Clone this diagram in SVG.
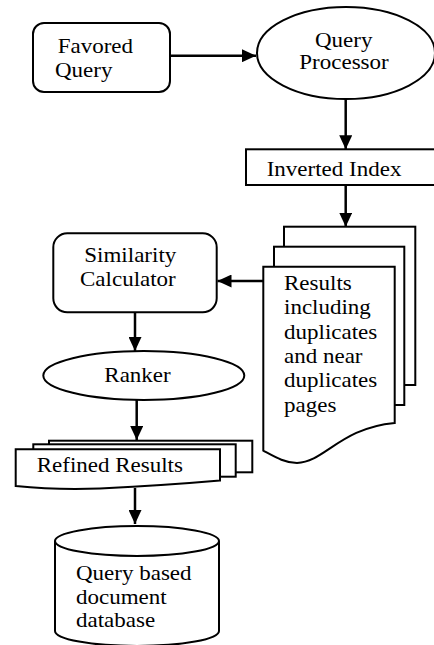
<svg xmlns="http://www.w3.org/2000/svg" width="434" height="645" viewBox="0 0 434 645">
<style>
.s{fill:#fff;stroke:#000;stroke-width:2}
.t{font-family:"Liberation Serif","Times New Roman",serif;font-size:20px;fill:#000}
.c{fill:none;stroke:#000;stroke-width:2.5}
</style>
<defs>
<marker id="ah" markerUnits="userSpaceOnUse" markerWidth="14" markerHeight="13" refX="14" refY="6.5" orient="auto">
<path d="M0,0 L14,6.5 L0,13 Z" fill="#000"/>
</marker>
</defs>
<rect width="434" height="645" fill="#fff"/>
<g id="favored">
<rect class="s" x="33" y="23" width="137" height="69" rx="11"/>
<text class="t" transform="matrix(1.15 0 0 1 57.7 53)">Favored</text>
<text class="t" transform="matrix(1.15 0 0 1 55 77)">Query</text>
</g>
<g id="processor">
<ellipse class="s" cx="346" cy="53" rx="89" ry="46"/>
<text class="t" transform="matrix(1.15 0 0 1 315 46.7)">Query</text>
<text class="t" transform="matrix(1.15 0 0 1 299.3 68.5)">Processor</text>
</g>
<g id="inverted">
<rect class="s" x="246" y="149.3" width="200" height="35.7"/>
<text class="t" transform="matrix(1.15 0 0 1 266.7 175.7)">Inverted Index</text>
</g>
<g id="results">
<rect class="s" x="284" y="226.7" width="131.3" height="158.3"/>
<rect class="s" x="274" y="246.7" width="130.3" height="158.3"/>
<path class="s" d="M263.3,266.7 H394.7 V423 C340,428 325,462 297,463 C285,463 275,457 263.3,450.7 Z"/>
<text class="t" transform="matrix(1.15 0 0 1 284 290)">Results</text>
<text class="t" transform="matrix(1.15 0 0 1 284 314.3)">including</text>
<text class="t" transform="matrix(1.15 0 0 1 284 338.6)">duplicates</text>
<text class="t" transform="matrix(1.15 0 0 1 284 362.9)">and near</text>
<text class="t" transform="matrix(1.15 0 0 1 284 387.2)">duplicates</text>
<text class="t" transform="matrix(1.15 0 0 1 284 411.7)">pages</text>
</g>
<g id="similarity">
<rect class="s" x="53.3" y="233.3" width="163.4" height="79" rx="14"/>
<text class="t" transform="matrix(1.15 0 0 1 84.3 262.3)">Similarity</text>
<text class="t" transform="matrix(1.15 0 0 1 80 285.7)">Calculator</text>
</g>
<g id="ranker">
<ellipse class="s" cx="143.8" cy="375.5" rx="100.5" ry="24.5"/>
<text class="t" transform="matrix(1.15 0 0 1 104.3 381.7)">Ranker</text>
</g>
<g id="refined">
<rect class="s" x="49" y="440.7" width="203.3" height="31.6"/>
<rect class="s" x="33.3" y="444.3" width="202.4" height="32.4"/>
<path class="s" d="M15.7,449.3 H220 V480.5 C180,484 150,486 100,488.5 C60,490 35,488 15.7,486 Z"/>
<text class="t" transform="matrix(1.15 0 0 1 36.7 471.7)">Refined Results</text>
</g>
<g id="database">
<path class="s" d="M55,541 A82,15 0 0 1 219,541 V631 A82,15 0 0 1 55,631 Z"/>
<path d="M55,541 A82,15 0 0 0 219,541" fill="none" stroke="#000" stroke-width="2"/>
<text class="t" transform="matrix(1.15 0 0 1 76 580)">Query based</text>
<text class="t" transform="matrix(1.15 0 0 1 76 603.5)">document</text>
<text class="t" transform="matrix(1.15 0 0 1 76 627)">database</text>
</g>
<g id="connectors">
<line class="c" x1="170" y1="55.7" x2="256" y2="55.7" marker-end="url(#ah)"/>
<line class="c" x1="345.7" y1="99" x2="345.7" y2="149.3" marker-end="url(#ah)"/>
<line class="c" x1="345.7" y1="185" x2="345.7" y2="226.7" marker-end="url(#ah)"/>
<line class="c" x1="263.3" y1="281" x2="217.5" y2="281" marker-end="url(#ah)"/>
<line class="c" x1="135" y1="312.3" x2="135" y2="351" marker-end="url(#ah)"/>
<line class="c" x1="136.7" y1="400" x2="136.7" y2="440" marker-end="url(#ah)"/>
<line class="c" x1="135" y1="488" x2="135" y2="524" marker-end="url(#ah)"/>
</g>
</svg>
